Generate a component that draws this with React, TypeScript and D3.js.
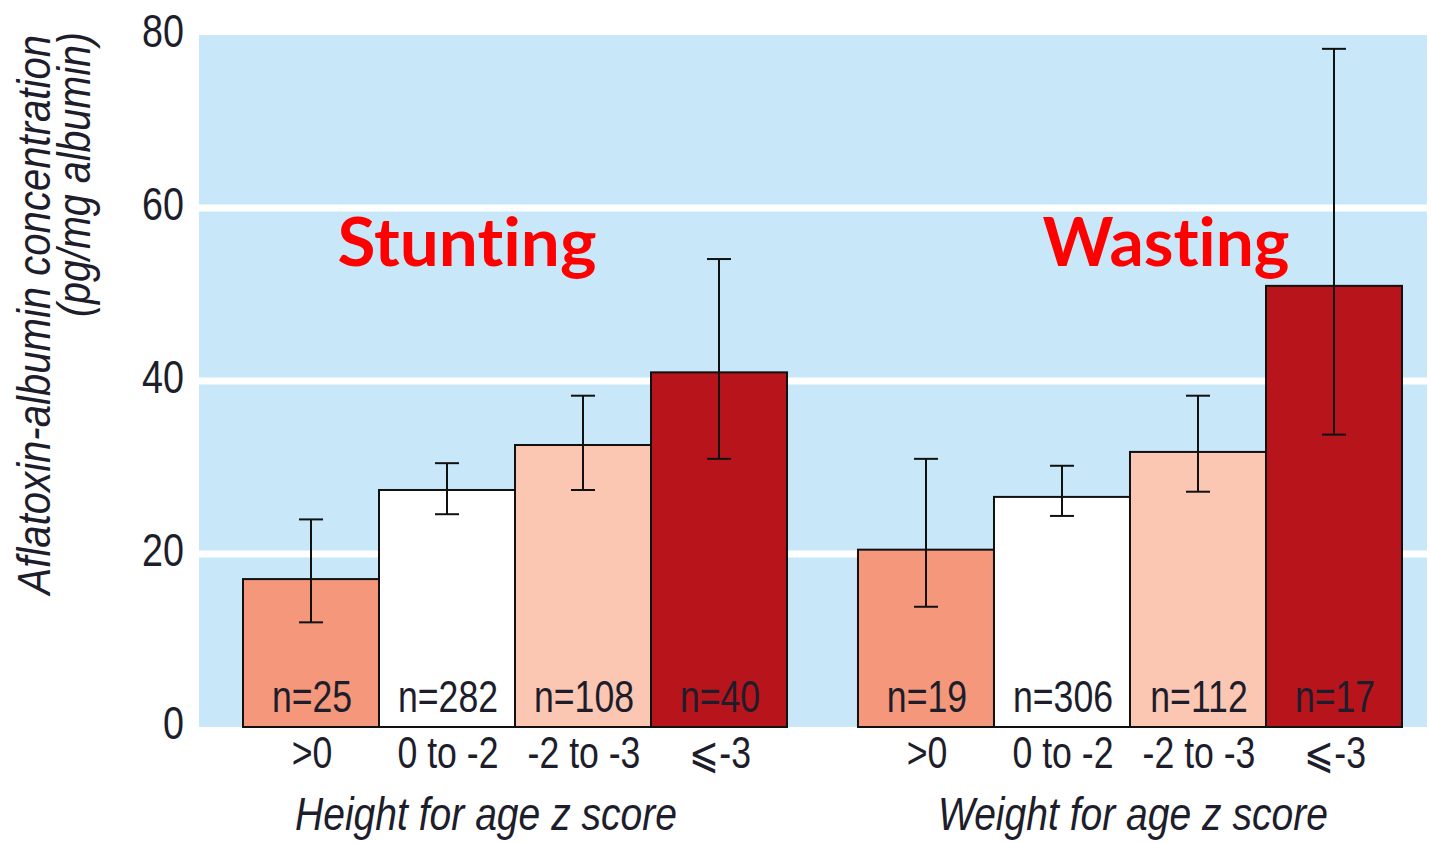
import React from "react";
import * as d3 from "d3";

const groups = ["Stunting", "Wasting"];
const groupAxisTitles = ["Height for age z score", "Weight for age z score"];
const categories = [">0", "0 to -2", "-2 to -3", "\u2A7D-3"];
const stuntingMeans = [17.1, 27.4, 32.6, 41.0];
const stuntingLower = [12.1, 24.6, 27.4, 31.0];
const stuntingUpper = [24.0, 30.5, 38.3, 54.1];
const stuntingN = [25, 282, 108, 40];
const wastingMeans = [20.5, 26.6, 31.8, 51.0];
const wastingLower = [13.9, 24.4, 27.2, 33.8];
const wastingUpper = [31.0, 30.2, 38.3, 78.4];
const wastingN = [19, 306, 112, 17];
const yTicks = [0, 20, 40, 60, 80];
const barColors = ["#F4977A", "#FFFFFF", "#FBC7B3", "#B8141B"];

const W = 1431;
const H = 843;
const plotLeft = 199;
const plotRight = 1427;

const series = [
  { means: stuntingMeans, lower: stuntingLower, upper: stuntingUpper, n: stuntingN },
  { means: wastingMeans, lower: wastingLower, upper: wastingUpper, n: wastingN },
];

const sans = "'Liberation Sans', Arial, sans-serif";
const ink = "#1d1d2b";

function NarrowText(props: { x: number; y: number; size: number; anchor?: string; italic?: boolean; sx?: number; children: React.ReactNode }) {
  const { x, y, size, anchor = "middle", italic = false, sx = 0.81, children } = props;
  return (
    <g transform={`translate(${x},${y}) scale(${sx},1)`}>
      <text x={0} y={0} textAnchor={anchor as any} fontFamily={sans} fontStyle={italic ? "italic" : "normal"} fontSize={size} fill={ink}>
        {children}
      </text>
    </g>
  );
}

export default function App() {
  const y = d3.scaleLinear().domain([0, 80]).range([727, 35]);
  const xGroup = d3.scaleBand<string>().domain(groups).range([243, 1402]).paddingInner(0.1154).paddingOuter(0);
  const xCat = d3.scaleBand<string>().domain(categories).range([0, xGroup.bandwidth()]).padding(0);
  const capW = 24;
  const titleStarts = [295, 938];
  const titleWidths = [382, 390];
  const labelCenters = [467, 1166];
  const labelWidths = [259, 247];

  return (
    <svg width={W} height={H} style={{ position: "absolute", left: 0, top: 0, background: "#fff" }}>
      <rect x={plotLeft} y={y(80)} width={plotRight - plotLeft} height={y(0) - y(80)} fill="#C8E8F9" />
      {yTicks.filter((t) => t > 0 && t < 80).map((t) => (
        <line key={t} x1={plotLeft} x2={plotRight} y1={y(t)} y2={y(t)} stroke="#FFFFFF" strokeWidth={7} />
      ))}
      {yTicks.map((t) => (
        <NarrowText key={"yt" + t} x={184} y={y(t) + 12} size={46} anchor="end" sx={0.82}>
          {t}
        </NarrowText>
      ))}
      <g transform="translate(50,35) rotate(-90) scale(0.872,1)">
        <text x={0} y={0} textAnchor="end" fontFamily={sans} fontStyle="italic" fontSize={46} fill={ink}>
          Aflatoxin-albumin concentration
        </text>
      </g>
      <g transform="translate(90,32) rotate(-90) scale(0.858,1)">
        <text x={0} y={0} textAnchor="end" fontFamily={sans} fontStyle="italic" fontSize={46} fill={ink}>
          (pg/mg albumin)
        </text>
      </g>
      {groups.map((g, gi) => {
        const s = series[gi];
        const gx = xGroup(g) as number;
        return (
          <g key={g}>
            {categories.map((c, ci) => {
              const bx = gx + (xCat(c) as number);
              const bw = xCat.bandwidth();
              const cx = bx + bw / 2;
              return (
                <g key={c}>
                  <rect x={bx} y={y(s.means[ci])} width={bw} height={y(0) - y(s.means[ci])} fill={barColors[ci]} stroke="#111" strokeWidth={2} />
                  <line x1={cx} x2={cx} y1={y(s.upper[ci])} y2={y(s.lower[ci])} stroke="#111" strokeWidth={2} />
                  <line x1={cx - capW / 2} x2={cx + capW / 2} y1={y(s.upper[ci])} y2={y(s.upper[ci])} stroke="#111" strokeWidth={2} />
                  <line x1={cx - capW / 2} x2={cx + capW / 2} y1={y(s.lower[ci])} y2={y(s.lower[ci])} stroke="#111" strokeWidth={2} />
                  <NarrowText x={cx + 1} y={712} size={44}>
                    {"n=" + s.n[ci]}
                  </NarrowText>
                  <NarrowText x={cx + 1} y={768} size={44}>
                    {c}
                  </NarrowText>
                </g>
              );
            })}
            <text x={titleStarts[gi]} y={830} fontFamily={sans} fontStyle="italic" fontSize={46} fill={ink} textLength={titleWidths[gi]} lengthAdjust="spacingAndGlyphs">
              {groupAxisTitles[gi]}
            </text>
            <text x={labelCenters[gi]} y={266} textAnchor="middle" fontFamily="Lato, 'Open Sans', sans-serif" fontWeight="bold" fontSize={66} fill="#FF0000" textLength={labelWidths[gi]} lengthAdjust="spacingAndGlyphs" style={{ fontVariantLigatures: "none" }}>
              {g}
            </text>
          </g>
        );
      })}
    </svg>
  );
}
